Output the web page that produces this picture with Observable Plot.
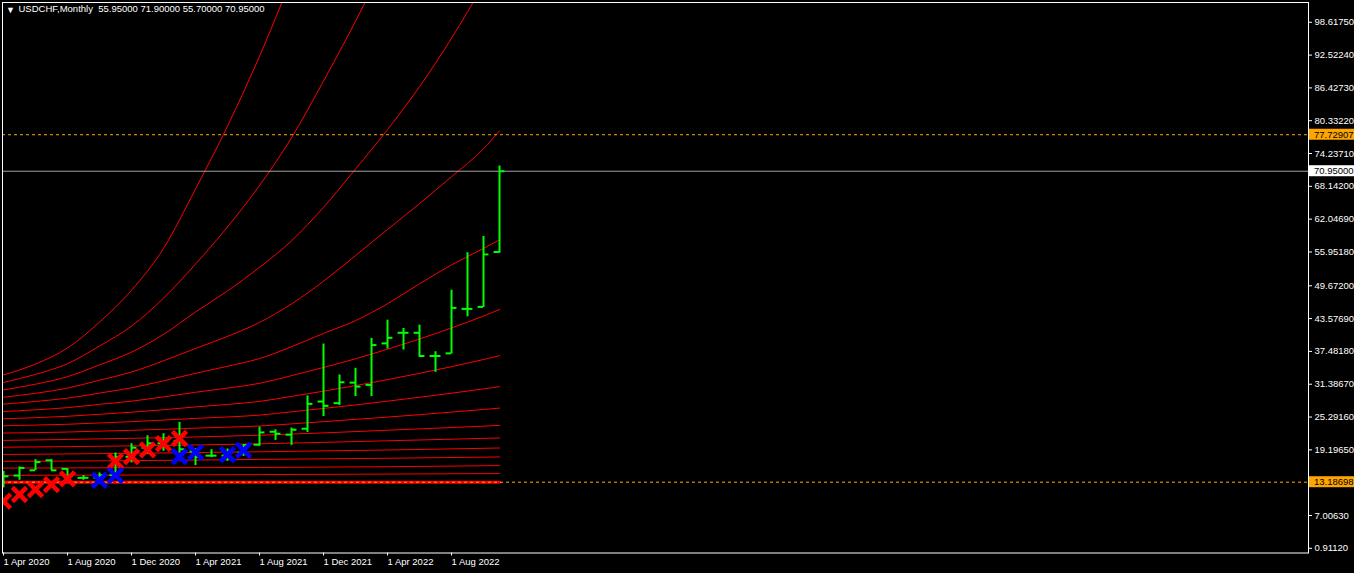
<!DOCTYPE html>
<html>
<head>
<meta charset="utf-8">
<script src="https://cdn.jsdelivr.net/npm/d3@7"></script>
<script src="https://cdn.jsdelivr.net/npm/@observablehq/plot@0.6"></script>
<style>
html, body { margin: 0; padding: 0; background: #000; overflow: hidden; }
#chart svg { display: block; }
</style>
</head>
<body>
<div id="chart"></div>
<script>
// ---- Bars (monthly OHLC), month index 0 = Apr 2020 ----
const months = ["Apr 2020","May 2020","Jun 2020","Jul 2020","Aug 2020","Sep 2020","Oct 2020","Nov 2020","Dec 2020",
  "Jan 2021","Feb 2021","Mar 2021","Apr 2021","May 2021","Jun 2021","Jul 2021","Aug 2021","Sep 2021","Oct 2021","Nov 2021","Dec 2021",
  "Jan 2022","Feb 2022","Mar 2022","Apr 2022","May 2022","Jun 2022","Jul 2022","Aug 2022","Sep 2022","Oct 2022","Nov 2022"];
const open  = [14.0, 14.42, 15.4, 17.25, 15.66, 13.99, 14.0, 14.5, 17.9, 19.6, 20.4, 20.8, 18.9, 18.12, 18.12, 18.7, 20.15, 22.56, 22.01, 23.12, 28.17, 27.87, 31.68, 31.26, 38.97, 40.94, 40.94, 36.63, 37.12, 45.38, 45.75, 55.95];
const high  = [15.21, 16.03, 17.38, 17.38, 15.71, 14.42, 14.92, 18.62, 20.34, 21.82, 22.19, 24.28, 19.4, 19.23, 19.36, 20.16, 23.43, 22.93, 23.25, 29.22, 38.85, 33.11, 34.35, 39.90, 43.29, 41.75, 42.36, 37.42, 48.84, 55.82, 58.83, 71.9];
const low   = [12.14, 13.55, 15.34, 15.34, 14.18, 13.55, 13.5, 14.4, 16.77, 18.31, 18.92, 18.62, 16.27, 17.75, 17.07, 17.99, 19.84, 20.95, 20.04, 22.43, 25.39, 27.43, 29.09, 29.09, 37.92, 37.74, 36.39, 33.6, 36.99, 43.90, 45.64, 55.7];
const close = [14.29, 15.84, 16.93, 15.4, 14.3, 14.0, 14.5, 17.9, 19.6, 20.4, 20.77, 19.3, 17.88, 18.12, 18.7, 20.1, 22.43, 22.19, 22.93, 27.74, 27.37, 31.75, 30.94, 38.66, 40.01, 40.94, 36.63, 36.63, 45.56, 45.38, 55.5, 70.95];

// ---- Signal markers ----
const redXMonths  = [0, 1, 2, 3, 4, 7, 8, 9, 10, 11];
const redXValues  = [9.66, 10.90, 11.83, 12.75, 13.81, 17.07, 17.94, 19.18, 20.34, 21.30];
const blueXMonths = [6, 7, 11, 12, 14, 15];
const blueXValues = [13.55, 14.42, 17.94, 18.73, 18.31, 19.11];

// ---- Red fan curves (values read at sample months) ----
const fanMonths = [0, 2, 4, 6, 8, 10, 12, 14, 16, 18, 20, 22, 24, 26, 28, 30, 31];
const fan15 = [33.11, 35.14, 38.11, 42.92, 48.84, 56.61, 67.64, 79.33, 92.29, 106.76];
const fan14 = [31.72, 33.22, 35.20, 38.48, 42.18, 47.36, 53.70, 60.6, 68.3, 77.15, 87.70, 98.80, 110.83];
const fan13 = [30.33, 31.39, 32.79, 34.98, 37.35, 40.64, 44.80, 48.71, 53.09, 58.02, 64.25, 71.34, 78.69, 86.64, 95.64, 105.65];
const fan12 = [28.98, 29.70, 30.67, 32.13, 33.65, 35.74, 38.03, 40.27, 42.86, 46.30, 50.52, 55.28, 60.13, 64.94, 69.93, 75.12, 78.45];
const fan11 = [27.69, 28.19, 28.80, 29.74, 30.72, 32.02, 33.41, 34.72, 36.16, 38.35, 40.83, 43.19, 46.34, 50.04, 53.56, 56.61, 58.22];
const fan10 = [26.32, 26.63, 27.04, 27.65, 28.24, 29.04, 29.89, 30.67, 31.55, 32.98, 34.50, 36.11, 37.90, 39.79, 41.84, 44.05, 45.27];
const fan9  = [24.97, 25.17, 25.43, 25.80, 26.19, 26.65, 27.17, 27.63, 28.19, 29.13, 30.09, 31.13, 32.24, 33.41, 34.64, 35.98, 36.68];
const fan8  = [23.67, 23.80, 23.95, 24.19, 24.43, 24.73, 25.04, 25.30, 25.65, 26.26, 26.89, 27.54, 28.24, 28.96, 29.72, 30.52, 30.94];
const fan7  = [22.32, 22.39, 22.51, 22.67, 22.82, 23.02, 23.23, 23.41, 23.63, 24.02, 24.43, 24.86, 25.28, 25.73, 26.21, 26.69, 26.95];
const lowFanMonths = [0, 8, 16, 24, 31];
const fan6 = [20.95, 21.34, 21.91, 22.84, 23.73];
const fan5 = [19.69, 19.93, 20.32, 20.88, 21.40];
const fan4 = [18.34, 18.55, 18.84, 19.17, 19.54];
const fan3 = [17.07, 17.19, 17.42, 17.64, 17.88];
const fan2 = [15.81, 15.87, 15.92, 16.07, 16.27];
const fan1 = [14.47, 14.52, 14.60, 14.70, 14.79];
const baseMonths = [0, 31];
const baseLevel = 13.18698;

// ---- Levels & axes ----
const upperLevel = 77.72907;
const lastPrice = 70.95;
const yTicks = [0.9112, 7.0063, 19.1965, 25.2916, 31.3867, 37.4818, 43.5769, 49.672, 55.9518, 62.0469, 68.142, 74.2371, 80.3322, 86.4273, 92.5224, 98.6175];
const xTickMonths = [0, 4, 8, 12, 16, 20, 24, 28];
const xTickLabels = ["1 Apr 2020","1 Aug 2020","1 Dec 2020","1 Apr 2021","1 Aug 2021","1 Dec 2021","1 Apr 2022","1 Aug 2022"];
const titleText = "USDCHF,Monthly  55.95000 71.90000 55.70000 70.95000";

// ---- Build tables ----
const bars = months.map((name, i) => ({i, name, open: open[i], high: high[i], low: low[i], close: close[i]}));
const fanSeries = [
  [15, fanMonths, fan15], [14, fanMonths, fan14], [13, fanMonths, fan13], [12, fanMonths, fan12],
  [11, fanMonths, fan11], [10, fanMonths, fan10], [9, fanMonths, fan9], [8, fanMonths, fan8], [7, fanMonths, fan7],
  [6, lowFanMonths, fan6], [5, lowFanMonths, fan5], [4, lowFanMonths, fan4], [3, lowFanMonths, fan3],
  [2, lowFanMonths, fan2], [1, lowFanMonths, fan1]
];
const fan = [];
for (const [k, ms, vs] of fanSeries) vs.forEach((v, j) => fan.push({k, m: ms[j], v}));
const base = baseMonths.map(m => ({m, v: baseLevel}));
const redX = redXMonths.map((m, j) => ({m, v: redXValues[j]}));
const blueX = blueXMonths.map((m, j) => ({m, v: blueXValues[j]}));

const W = 1354, H = 573;
const green = "#00ff00";
const FONT = "'Liberation Sans', Arial, sans-serif";

const plot = Plot.plot({
  width: W,
  height: H,
  marginLeft: 2,
  marginRight: 46,
  marginTop: 2,
  marginBottom: 20.5,
  style: {background: "#000", color: "#fff", fontFamily: FONT, fontSize: "9.5px"},
  x: {type: "linear", domain: [-0.0625, 81.5625]},
  y: {type: "linear", domain: [0.038, 102.29]},
  marks: [
    Plot.line(fan, {x: "m", y: "v", z: "k", stroke: "#ff0000", strokeWidth: 1, curve: "monotone-x", clip: true}),
    Plot.line(base, {x: "m", y: "v", stroke: "#ff0000", strokeWidth: 3, clip: true}),
    Plot.ruleY([lastPrice], {stroke: "#a0a0a8", strokeWidth: 1}),
    Plot.ruleY([upperLevel, baseLevel], {stroke: "#ffa500", strokeWidth: 1, strokeDasharray: "3,3"}),
    Plot.ruleX(bars, {x: "i", y1: "low", y2: "high", stroke: green, strokeWidth: 2, clip: true}),
    Plot.ruleY(bars, {y: "open", x1: d => d.i - 0.34, x2: "i", stroke: green, strokeWidth: 2, clip: true}),
    Plot.ruleY(bars, {y: "close", x1: "i", x2: d => d.i + 0.34, stroke: green, strokeWidth: 2, clip: true}),
    Plot.dot(redX, {x: "m", y: "v", symbol: "times", r: 6.5, stroke: "#ff0000", strokeWidth: 4.5, clip: true}),
    Plot.dot(blueX, {x: "m", y: "v", symbol: "times", r: 6.5, stroke: "#0000ff", strokeWidth: 4.5, clip: true}),
    Plot.frame({stroke: "#fff", strokeWidth: 1}),
    Plot.axisY({anchor: "right", ticks: yTicks, tickFormat: d => d.toFixed(5), tickSize: 3, tickPadding: 3, fill: "#fff", stroke: "#fff"}),
    Plot.axisX({anchor: "bottom", ticks: xTickMonths, tickFormat: d => xTickLabels[xTickMonths.indexOf(d)], tickSize: 3, tickPadding: 2, textAnchor: "start", dx: 0, fill: "#fff", stroke: "#fff"}),
    Plot.text(["\u25BC"], {frameAnchor: "top-left", dx: 8, dy: 4, fontSize: 9, fill: "#fff", textAnchor: "middle", lineAnchor: "top"}),
    Plot.text([titleText], {frameAnchor: "top-left", dx: 16, dy: 3, fill: "#fff", textAnchor: "start", lineAnchor: "top", fontSize: 9.5})
  ]
});

// price labels in the right margin, placed with the plot's own y scale
const ys = plot.scale("y");
const labels = [
  {v: upperLevel, text: upperLevel.toFixed(5), fill: "#ffa500"},
  {v: lastPrice, text: lastPrice.toFixed(5), fill: "#ffffff"},
  {v: baseLevel, text: baseLevel.toFixed(5), fill: "#ffa500"}
];
const g = d3.select(plot).append("g")
  .attr("font-family", FONT).attr("font-size", "9.5px").attr("text-anchor", "start");
for (const l of labels) {
  const y = ys.apply(l.v);
  g.append("rect").attr("x", W - 45).attr("y", y - 5.5).attr("width", 45).attr("height", 11).attr("fill", l.fill);
  g.append("text").attr("x", W - 40).attr("y", y).attr("dy", "0.35em").attr("fill", "#000").text(l.text);
}
document.getElementById("chart").appendChild(plot);
</script>
</body>
</html>
